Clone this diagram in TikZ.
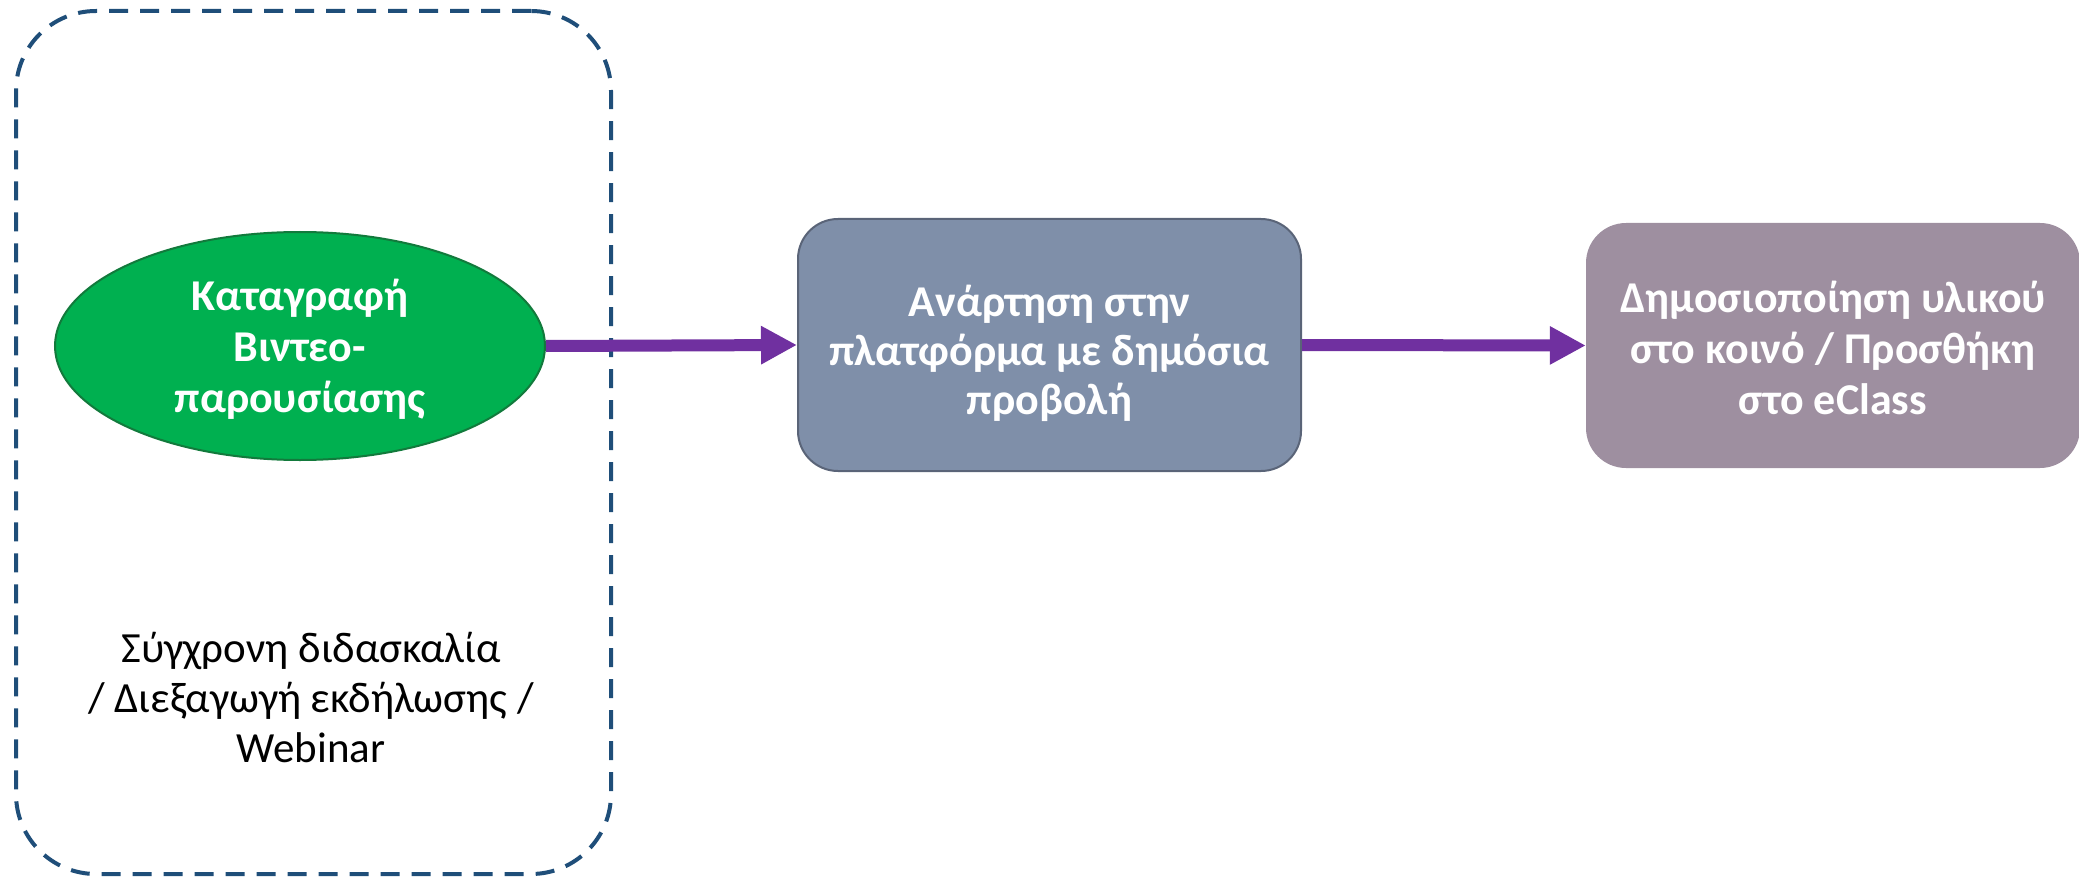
\documentclass[tikz,border=0pt]{standalone}
\usepackage{fontspec}
\setmainfont{Carlito}
\usetikzlibrary{arrows.meta,shapes.geometric}
\definecolor{frameblue}{HTML}{1F4E79}
\definecolor{elgreen}{HTML}{00B050}
\definecolor{elgreenb}{HTML}{127A3C}
\definecolor{boxblue}{HTML}{7F8FA9}
\definecolor{boxblueb}{HTML}{5A6478}
\definecolor{boxmauve}{HTML}{9E8FA0}
\definecolor{arrowpurple}{HTML}{7030A0}
\tikzset{
  frame/.style={draw=frameblue, line width=4pt, dash pattern=on 19pt off 12pt, rounded corners=80pt, minimum width=595pt, minimum height=863pt, inner sep=0pt},
  recnode/.style={ellipse, fill=elgreen, draw=elgreenb, line width=2pt, minimum width=490pt, minimum height=228pt, inner sep=0pt},
  wlabel/.style={text=white, align=center, font=\fontsize{44}{51}\selectfont\bfseries},
  stepbox/.style={rounded corners=40pt, inner sep=0pt},
  plaintext/.style={align=center, text=black, font=\fontsize{43}{50}\selectfont},
  flow/.style={draw=arrowpurple, line width=12pt, -{Triangle[length=36pt,width=36pt]}}
}
\begin{document}
\begin{tikzpicture}[x=1pt,y=-1pt]
\useasboundingbox (0,0) rectangle (2079,877);
\node[frame] (frm) at (313.5,442.5) {};
\node[recnode] (rec) at (300,346) {};
\node[wlabel] (rectext) at (300,349) {Καταγραφή\\Βιντεο-\\παρουσίασης};
\node[stepbox, fill=boxblue, draw=boxblueb, line width=2pt, minimum width=503pt, minimum height=252pt] (post) at (1049.5,345) {};
\node[wlabel, font=\fontsize{44}{49}\selectfont\bfseries] (posttext) at (1049.5,353) {Ανάρτηση στην\\πλατφόρμα με δημόσια\\προβολή};
\node[stepbox, fill=boxmauve, minimum width=494pt, minimum height=245pt] (pub) at (1833,345.5) {};
\node[wlabel] (pubtext) at (1833,348) {Δημοσιοποίηση υλικού\\στο κοινό / Προσθήκη\\στο eClass};
\node[plaintext] (sync) at (311,698) {Σύγχρονη διδασκαλία\\/ Διεξαγωγή εκδήλωσης /\\Webinar};
\draw[flow] (rec.east) -- (post.west);
\draw[flow] (post.east) -- (pub.west);
\end{tikzpicture}
\end{document}
